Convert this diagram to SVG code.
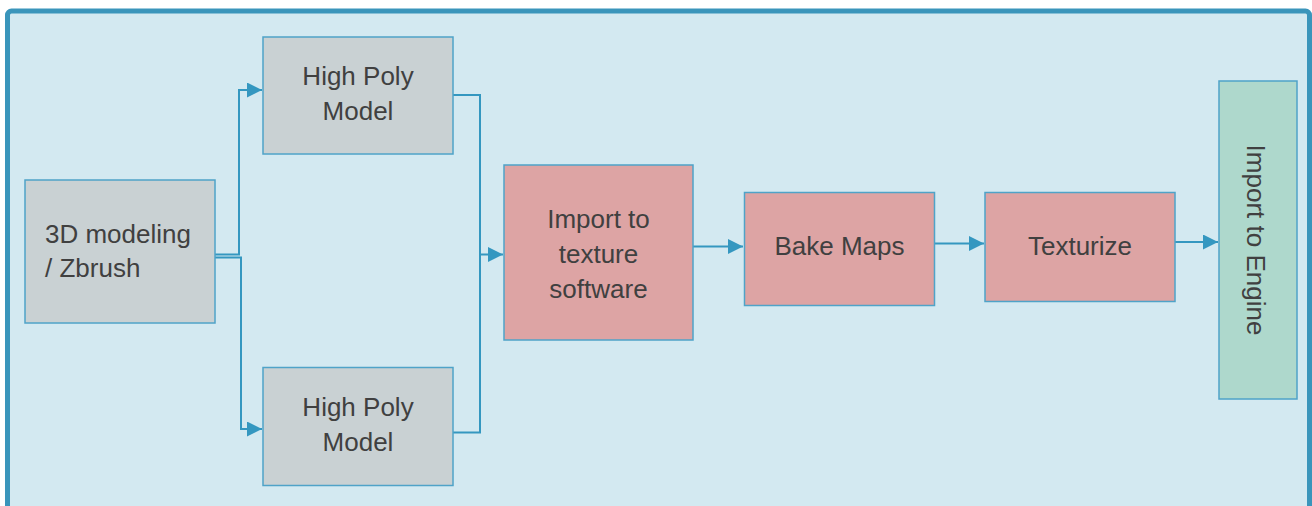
<svg xmlns="http://www.w3.org/2000/svg" width="1312" height="506" viewBox="0 0 1312 506">
  <defs>
    <style>
      .node { stroke: #4fa3c8; stroke-width: 1.5; }
      .gray { fill: #c9d1d3; }
      .pink { fill: #dda4a4; }
      .green { fill: #aed8cc; }
      .label { font-family: "Liberation Sans", Arial, sans-serif; font-size: 26px; fill: #404040; }
      .mid { text-anchor: middle; }
      .link { fill: none; stroke: #3497c0; stroke-width: 2; }
    </style>
    <marker id="arrow" viewBox="0 0 10 10" refX="10" refY="5" markerWidth="7.5" markerHeight="7.5" orient="auto" markerUnits="strokeWidth">
      <path d="M0,0 L10,5 L0,10 Z" fill="#3497c0"/>
    </marker>
  </defs>

  <!-- panel -->
  <rect x="7.5" y="11" width="1302" height="540" rx="4" fill="#d3e9f1" stroke="#3a95bb" stroke-width="5"/>

  <!-- connectors -->
  <g id="connectors">
    <polyline class="link" points="215,254.5 239,254.5 239,90 262,90" marker-end="url(#arrow)"/>
    <polyline class="link" points="215,257.5 241,257.5 241,429 262,429" marker-end="url(#arrow)"/>
    <polyline class="link" points="453,95 480,95 480,254.5 503,254.5" marker-end="url(#arrow)"/>
    <polyline class="link" points="453,432.5 480,432.5 480,254.5"/>
    <line class="link" x1="693" y1="246.5" x2="743" y2="246.5" marker-end="url(#arrow)"/>
    <line class="link" x1="934" y1="243.5" x2="984" y2="243.5" marker-end="url(#arrow)"/>
    <line class="link" x1="1175" y1="242" x2="1218" y2="242" marker-end="url(#arrow)"/>
  </g>

  <g id="modeling">
    <rect class="node gray" x="25" y="180" width="190" height="143"/>
    <text class="label" x="45" y="242.5">3D modeling</text>
    <text class="label" x="45" y="276.5">/ Zbrush</text>
  </g>

  <g id="high-poly-top">
    <rect class="node gray" x="263" y="37" width="190" height="117"/>
    <text class="label mid" x="358" y="85">High Poly</text>
    <text class="label mid" x="358" y="120">Model</text>
  </g>

  <g id="high-poly-bottom">
    <rect class="node gray" x="263" y="367.5" width="190" height="118"/>
    <text class="label mid" x="358" y="415.5">High Poly</text>
    <text class="label mid" x="358" y="450.5">Model</text>
  </g>

  <g id="import-texture">
    <rect class="node pink" x="504" y="165" width="189" height="175"/>
    <text class="label mid" x="598.5" y="227.5">Import to</text>
    <text class="label mid" x="598.5" y="262.5">texture</text>
    <text class="label mid" x="598.5" y="297.5">software</text>
  </g>

  <g id="bake-maps">
    <rect class="node pink" x="744.5" y="192.5" width="190" height="113"/>
    <text class="label mid" x="839.5" y="255">Bake Maps</text>
  </g>

  <g id="texturize">
    <rect class="node pink" x="985" y="192.5" width="190" height="109"/>
    <text class="label mid" x="1080" y="254.5">Texturize</text>
  </g>

  <g id="import-engine">
    <rect class="node green" x="1219" y="81" width="78" height="318"/>
    <text class="label mid" transform="translate(1247,240) rotate(90)" x="0" y="0">Import to Engine</text>
  </g>
</svg>
